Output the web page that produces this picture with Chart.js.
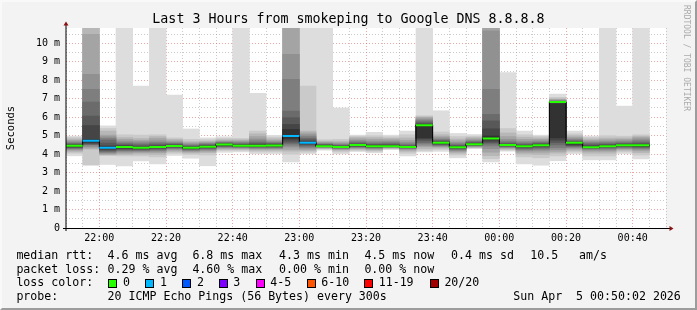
<!DOCTYPE html>
<html><head><meta charset="utf-8">
<script src="https://cdn.jsdelivr.net/npm/chart.js@4.4.1/dist/chart.umd.min.js"></script>
<style>
html,body{margin:0;padding:0;background:#f3f3f3;}
#wrap{position:relative;width:697px;height:310px;overflow:hidden;background:#f3f3f3;font-family:"DejaVu Sans Mono",monospace;color:#000;}
#c{position:absolute;left:0;top:0;}
.t{position:absolute;white-space:pre;font-size:11.6px;line-height:14px;}
#title{position:absolute;left:0;width:697px;top:11px;text-align:center;font-size:13.3px;line-height:16px;white-space:pre;}
#wm{position:absolute;left:681px;top:5px;writing-mode:vertical-rl;font-size:8px;line-height:10px;color:#aaaaaa;white-space:pre;}
.box{position:absolute;width:9px;height:9px;box-sizing:border-box;border:1px solid #000;}
#frame{position:absolute;left:0;top:0;width:697px;height:310px;box-sizing:border-box;border-top:2px solid #f9f9f9;border-left:2px solid #f9f9f9;border-right:2px solid #9c9c9c;border-bottom:2px solid #9c9c9c;pointer-events:none;}
</style></head><body>
<div id="wrap">
<canvas id="c" width="697" height="310"></canvas>
<div id="title">Last 3 Hours from smokeping to Google DNS 8.8.8.8</div>
<div id="wm">RRDTOOL / TOBI OETIKER</div>
<div class="t" style="left:16.4px;top:248px">median rtt:</div>
<div class="t" style="left:107.6px;top:248px">4.6 ms avg</div>
<div class="t" style="left:192.4px;top:248px">6.8 ms max</div>
<div class="t" style="left:279.1px;top:248px">4.3 ms min</div>
<div class="t" style="left:364.4px;top:248px">4.5 ms now</div>
<div class="t" style="left:451.1px;top:248px">0.4 ms sd</div>
<div class="t" style="left:530.2px;top:248px">10.5</div>
<div class="t" style="left:579.1px;top:248px">am/s</div>
<div class="t" style="left:16.4px;top:261.7px">packet loss:</div>
<div class="t" style="left:107.6px;top:261.7px">0.29 % avg</div>
<div class="t" style="left:192.4px;top:261.7px">4.60 % max</div>
<div class="t" style="left:279.1px;top:261.7px">0.00 % min</div>
<div class="t" style="left:364.4px;top:261.7px">0.00 % now</div>
<div class="t" style="left:16.4px;top:275.3px">loss color:</div>
<div id="lossLegend"></div>
<div class="t" style="left:16.4px;top:289px">probe:</div>
<div class="t" style="left:107.6px;top:289px">20 ICMP Echo Pings (56 Bytes) every 300s</div>
<div class="t" style="left:513.3px;top:289px">Sun Apr  5 00:50:02 2026</div>
<div id="frame"></div>
</div>
<script>
// ---- data ----
const slots = ['21:50','21:55','22:00','22:05','22:10','22:15','22:20','22:25','22:30','22:35','22:40','22:45','22:50','22:55','23:00','23:05','23:10','23:15','23:20','23:25','23:30','23:35','23:40','23:45','23:50','23:55','00:00','00:05','00:10','00:15','00:20','00:25','00:30','00:35','00:40'];
const xTickLabels = ['22:00','22:20','22:40','23:00','23:20','23:40','00:00','00:20','00:40'];
const windowMinutes = 180;
const stepMinutes = 5;
const yMaxMs = 10.83;

// sorted ping round-trip times (ms), ping01 = fastest ... ping20 = slowest, one value per slot
const ping01 = [3.91,3.30,3.44,3.36,3.63,3.47,3.93,3.78,3.37,4.10,4.12,4.03,4.03,3.58,4.03,4.22,4.02,4.14,4.07,4.25,3.90,4.12,4.15,3.80,4.30,3.58,4.16,3.47,3.40,3.64,4.03,3.69,3.69,4.03,3.74];
const ping02 = [4.05,3.40,3.92,3.90,3.90,3.85,4.05,3.98,3.95,4.20,4.20,4.12,4.12,4.00,4.10,4.27,4.12,4.20,4.15,4.28,4.05,4.20,4.25,3.95,4.33,3.75,4.22,3.85,3.80,3.90,4.12,3.90,3.90,4.12,3.95];
const ping03 = [4.12,4.27,3.96,3.98,4.00,3.98,4.12,4.06,4.08,4.25,4.25,4.20,4.20,4.16,4.18,4.30,4.20,4.25,4.20,4.31,4.15,4.30,4.32,4.05,4.36,3.92,4.27,4.00,3.98,4.05,4.20,4.05,4.05,4.20,4.08];
const ping04 = [4.20,4.32,4.00,4.05,4.08,4.08,4.20,4.12,4.15,4.30,4.30,4.26,4.26,4.25,4.25,4.33,4.25,4.30,4.25,4.34,4.22,4.40,4.38,4.12,4.39,4.10,4.31,4.10,4.10,4.15,4.27,4.15,4.15,4.26,4.18];
const ping05 = [4.25,4.40,4.05,4.12,4.14,4.15,4.26,4.17,4.20,4.35,4.33,4.30,4.30,4.39,4.32,4.36,4.28,4.34,4.30,4.36,4.27,4.47,4.42,4.18,4.42,4.30,4.35,4.18,4.20,4.25,4.33,4.22,4.22,4.30,4.25];
const ping06 = [4.30,4.50,4.10,4.18,4.18,4.20,4.30,4.21,4.25,4.38,4.36,4.34,4.34,4.48,4.38,4.38,4.31,4.37,4.33,4.38,4.30,4.55,4.46,4.23,4.45,4.45,4.38,4.24,4.27,4.35,4.38,4.27,4.28,4.34,4.30];
const ping07 = [4.33,4.53,4.15,4.22,4.22,4.25,4.34,4.25,4.30,4.41,4.39,4.37,4.37,4.58,4.44,4.40,4.33,4.40,4.36,4.40,4.33,4.62,4.50,4.27,4.47,4.55,4.41,4.30,4.33,4.50,4.42,4.30,4.33,4.38,4.35];
const ping08 = [4.36,4.55,4.20,4.26,4.26,4.30,4.37,4.28,4.33,4.44,4.41,4.40,4.40,4.65,4.50,4.42,4.35,4.42,4.38,4.41,4.35,4.72,4.53,4.31,4.49,4.62,4.44,4.34,4.38,4.62,4.46,4.33,4.37,4.41,4.39];
const ping09 = [4.39,4.60,4.25,4.30,4.29,4.34,4.40,4.30,4.36,4.47,4.43,4.43,4.43,4.76,4.55,4.43,4.37,4.45,4.40,4.42,4.37,4.82,4.56,4.34,4.51,4.70,4.46,4.38,4.42,4.75,4.50,4.35,4.40,4.44,4.42];
const ping10 = [4.42,4.65,4.30,4.35,4.32,4.37,4.42,4.32,4.39,4.49,4.45,4.45,4.46,4.85,4.58,4.44,4.38,4.47,4.42,4.43,4.38,4.88,4.59,4.36,4.53,4.78,4.48,4.41,4.46,4.88,4.55,4.37,4.42,4.46,4.45];
const ping11 = [4.47,4.80,4.40,4.42,4.36,4.40,4.45,4.35,4.42,4.52,4.47,4.48,4.49,5.34,4.63,4.46,4.40,4.50,4.45,4.45,4.40,5.55,4.62,4.39,4.55,4.98,4.50,4.44,4.50,6.72,4.60,4.40,4.45,4.49,4.48];
const ping12 = [4.50,5.55,4.45,4.46,4.40,4.44,4.48,4.38,4.45,4.55,4.50,4.52,4.52,5.61,4.70,4.48,4.42,4.53,4.48,4.48,4.42,5.62,4.66,4.42,4.58,5.37,4.53,4.47,4.53,6.76,4.64,4.44,4.48,4.52,4.52];
const ping13 = [4.53,6.06,4.60,4.50,4.45,4.50,4.52,4.42,4.48,4.58,4.53,4.57,4.55,5.97,4.78,4.50,4.45,4.57,4.52,4.52,4.45,5.68,4.70,4.46,4.62,5.80,4.57,4.51,4.57,6.80,4.68,4.50,4.52,4.56,4.58];
const ping14 = [4.58,6.82,4.76,4.56,4.52,4.56,4.56,4.46,4.52,4.61,4.57,4.63,4.59,6.33,4.86,4.53,4.48,4.62,4.56,4.57,4.50,5.75,4.75,4.50,4.66,6.15,4.62,4.56,4.61,6.84,4.72,4.56,4.57,4.60,4.65];
const ping15 = [4.62,7.51,4.85,4.62,4.60,4.63,4.60,4.50,4.56,4.64,4.62,4.72,4.63,8.05,4.95,4.56,4.52,4.68,4.62,4.63,4.56,5.82,4.80,4.56,4.70,7.51,4.70,4.62,4.66,6.88,4.78,4.62,4.63,4.66,4.73];
const ping16 = [4.68,8.32,4.94,4.70,4.68,4.72,4.66,4.56,4.60,4.68,4.67,4.82,4.68,9.41,5.05,4.60,4.57,4.75,4.70,4.70,4.65,5.90,4.88,4.63,4.76,10.67,4.80,4.70,4.72,6.92,4.84,4.68,4.70,4.72,4.82];
const ping17 = [4.75,10.49,5.03,4.80,4.75,4.85,4.72,4.62,4.65,4.72,4.72,4.95,4.75,12,5.15,4.65,4.63,4.83,4.80,4.78,4.75,5.97,4.95,4.72,4.83,12,4.95,4.80,4.80,6.96,4.92,4.75,4.78,4.80,4.90];
const ping18 = [4.82,12,5.25,4.90,4.85,4.95,4.80,4.68,4.70,4.78,4.78,5.10,4.83,12,5.25,4.70,4.70,4.90,4.90,4.86,4.88,6.02,5.05,4.82,4.90,12,5.15,4.92,4.88,7.00,5.00,4.82,4.87,4.88,4.97];
const ping19 = [4.90,12,5.39,5.05,5.03,5.05,4.88,4.80,4.78,4.85,4.85,5.25,4.92,12,7.69,4.78,4.80,4.97,5.00,4.94,5.05,6.08,5.20,4.95,4.97,12,5.39,5.05,4.96,7.08,5.10,4.90,5.00,4.97,5.05];
const ping20 = [4.97,null,5.53,12,7.69,12,7.20,5.36,4.88,4.94,12,7.29,5.02,12,12,12,6.50,5.03,5.18,5.03,5.25,12,6.35,5.12,5.06,12,8.41,5.25,5.03,7.25,5.25,4.98,12,6.60,12];

const medianRtt = [4.45,4.72,4.35,4.38,4.34,4.38,4.44,4.34,4.40,4.52,4.45,4.46,4.47,4.98,4.61,4.42,4.38,4.49,4.43,4.43,4.38,5.57,4.61,4.37,4.54,4.85,4.49,4.43,4.48,6.82,4.61,4.37,4.43,4.48,4.48];
const lostPings = [0,1,1,0,0,0,0,0,0,0,0,0,0,1,1,0,0,0,0,0,0,0,0,0,0,0,0,0,0,0,0,0,0,0,0];

const lossLabels = ['0','1','2','3','4-5','6-10','11-19','20/20'];
const lossUpTo   = [0,1,2,3,5,10,19,20];
const lossColors = ['#26ff00','#00b8ff','#0059ff','#7e00ff','#ff00ff','#ff5500','#ff0000','#a10000'];
const smokeColors = ['#dddddd','#cacaca','#b7b7b7','#a4a4a4','#919191','#7e7e7e','#6b6b6b','#585858','#454545','#323232'];

// ---- legend layout (positions only) ----
const lossBoxX = [108,145.3,182.2,219.1,256,306.7,364.4,429.8];
const lossTextX = [123.1,160,196.9,233.3,270.2,321.3,378.7,444.4];
const lg = document.getElementById('lossLegend');
lossLabels.forEach((lab,i)=>{
  const b = document.createElement('div'); b.className='box';
  b.style.left = lossBoxX[i]+'px'; b.style.top='278.5px'; b.style.background = lossColors[i];
  lg.appendChild(b);
  const t = document.createElement('div'); t.className='t';
  t.style.left = lossTextX[i]+'px'; t.style.top='275.3px'; t.textContent = lab;
  lg.appendChild(t);
});

// ---- build datasets ----
const pings = [ping01,ping02,ping03,ping04,ping05,ping06,ping07,ping08,ping09,ping10,ping11,ping12,ping13,ping14,ping15,ping16,ping17,ping18,ping19,ping20];
const datasets = [];
for (let k = 0; k < 10; k++) {
  const lo = pings[k], hi = pings[19-k];
  const data = [];
  slots.forEach((s,i)=>{
    if (lo[i] != null && hi[i] != null) data.push({x: i*stepMinutes + stepMinutes/2, y: [lo[i], hi[i]]});
  });
  datasets.push({type:'bar', data, backgroundColor: smokeColors[k], borderWidth:0,
    barPercentage:1, categoryPercentage:1, grouped:false, clip:0, order: 100-k});
}
// black median step line
const stepData = slots.map((s,i)=>({x:i*stepMinutes, y:medianRtt[i]}));
stepData.push({x:slots.length*stepMinutes, y:medianRtt[slots.length-1]});
datasets.push({type:'line', data: stepData, borderColor:'#000', borderWidth:1, pointRadius:0, stepped:'before', fill:false, order:2});
// coloured median segments per loss level
function lossLevel(n){ for (let j=0;j<lossUpTo.length;j++) if (n<=lossUpTo[j]) return j; return lossUpTo.length-1; }
lossLabels.forEach((lab,j)=>{
  const data = [];
  slots.forEach((s,i)=>{
    if (lossLevel(lostPings[i]) === j) {
      data.push({x:i*stepMinutes, y:medianRtt[i]});
      data.push({x:(i+1)*stepMinutes, y:medianRtt[i]});
      data.push({x:(i+1)*stepMinutes, y:null});
    }
  });
  datasets.push({type:'line', data, borderColor: lossColors[j], borderWidth:2, pointRadius:0, spanGaps:false, fill:false, order:1});
});

const tickMinute = {};
xTickLabels.forEach(l => { tickMinute[slots.indexOf(l)*stepMinutes] = l; });

const majorGrid = 'rgba(215,60,60,0.45)';
const minorGrid = 'rgba(140,140,140,0.45)';
const MONO = 'DejaVu Sans Mono';

const plotBg = {
  id:'plotBg',
  beforeDraw(chart){
    const {ctx, chartArea:a} = chart;
    ctx.save(); ctx.fillStyle = '#ffffff';
    ctx.fillRect(a.left, a.top, a.right-a.left, a.bottom-a.top);
    ctx.restore();
  }
};
const axesArrows = {
  id:'axesArrows',
  afterDraw(chart){
    const {ctx, chartArea:a} = chart;
    ctx.save();
    ctx.strokeStyle = '#000'; ctx.lineWidth = 1;
    ctx.beginPath();
    ctx.moveTo(a.left, a.bottom+3); ctx.lineTo(a.left, a.top-4);
    ctx.moveTo(a.left-3, a.bottom+0.5); ctx.lineTo(a.right+4, a.bottom+0.5);
    ctx.stroke();
    ctx.fillStyle = '#8b1010';
    ctx.beginPath();
    ctx.moveTo(a.left, a.top-6.5); ctx.lineTo(a.left-2.5, a.top-2.5); ctx.lineTo(a.left+2.5, a.top-2.5); ctx.closePath(); ctx.fill();
    ctx.beginPath();
    ctx.moveTo(a.right+7.5, a.bottom+0.5); ctx.lineTo(a.right+3.5, a.bottom-2); ctx.lineTo(a.right+3.5, a.bottom+3); ctx.closePath(); ctx.fill();
    ctx.restore();
  }
};

new Chart(document.getElementById('c'), {
  data: { datasets },
  options: {
    responsive:false, animation:false, devicePixelRatio:1, events:[],
    layout: { padding: { top:28, right:31, bottom:52, left:0 } },
    plugins: { legend:{display:false}, tooltip:{enabled:false}, title:{display:false} },
    scales: {
      x: {
        type:'linear', min:0, max:windowMinutes, z:1, offset:false,
        afterBuildTicks: s => { const t=[]; for (let v=0; v<=windowMinutes; v+=stepMinutes) t.push({value:v}); s.ticks=t; },
        afterFit: s => { s.height = 30; },
        ticks: { autoSkip:false, maxRotation:0, minRotation:0, padding:4, color:'#000',
                 font:{family:MONO, size:10}, callback: v => tickMinute[v] || '' },
        grid: { offset:false, color: ctx => (ctx.tick && tickMinute[ctx.tick.value]) ? majorGrid : minorGrid, lineWidth:1, drawTicks:false },
        border: { display:false, dash:[1,2] }
      },
      y: {
        type:'linear', min:0, max:yMaxMs, z:1,
        afterBuildTicks: s => { const t=[]; for (let v=0; v<=Math.floor(yMaxMs*2)/2+1e-9; v+=0.5) t.push({value:Math.round(v*2)/2}); s.ticks=t; },
        afterFit: s => { s.width = 66; },
        ticks: { autoSkip:false, padding:6, color:'#000', font:{family:MONO, size:10},
                 callback: v => Number.isInteger(v) ? (v===0 ? '0' : v+' m') : '' },
        grid: { color: ctx => (ctx.tick && Number.isInteger(ctx.tick.value)) ? majorGrid : minorGrid, lineWidth:1, drawTicks:false },
        border: { display:false, dash:[1,2] },
        title: { display:true, text:'Seconds', color:'#000', font:{family:MONO, size:10.5}, padding:{top:5,bottom:0} }
      }
    }
  },
  plugins:[plotBg, axesArrows]
});
</script>
</body></html>
